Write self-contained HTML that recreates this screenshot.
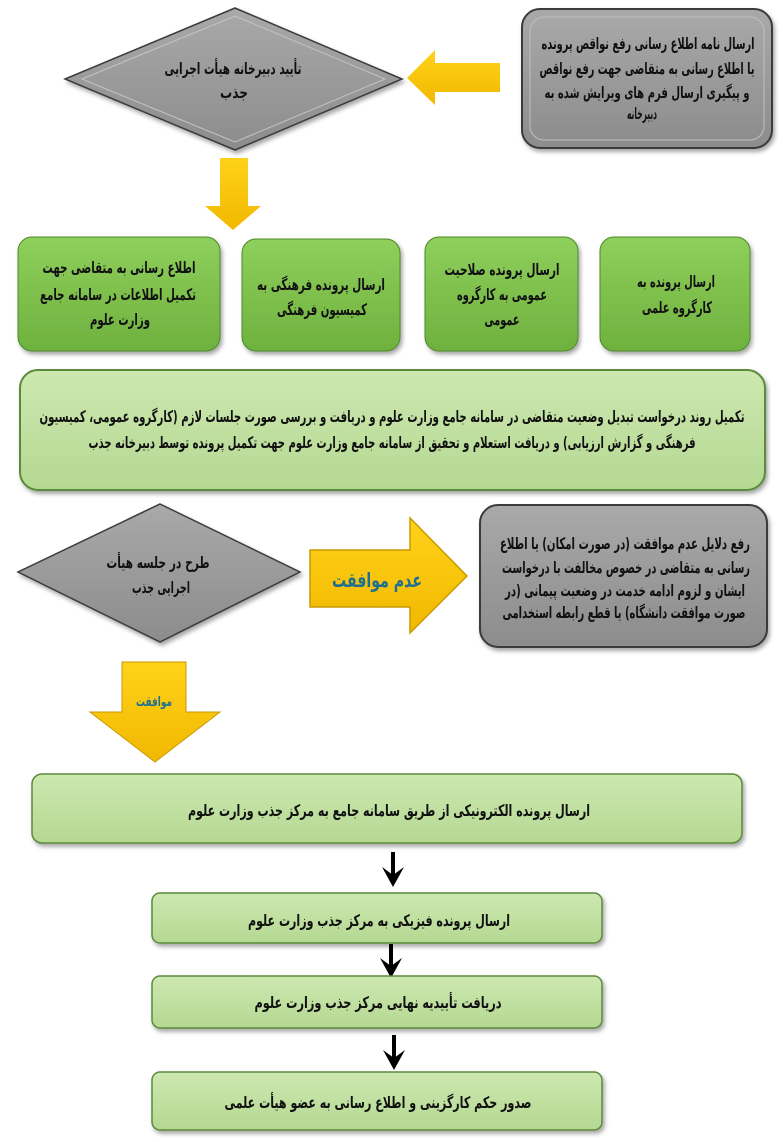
<!DOCTYPE html>
<html><head><meta charset="utf-8"><style>
html,body{margin:0;padding:0;background:#fff;}
svg{display:block}
text{font-family:"DejaVu Sans","Liberation Sans",sans-serif;font-weight:bold;font-size:16px;fill:#111;text-anchor:middle}
</style></head><body>
<svg width="783" height="1142" viewBox="0 0 783 1142" xmlns="http://www.w3.org/2000/svg">
<defs>
<linearGradient id="gray" x1="0" y1="0" x2="0" y2="1"><stop offset="0" stop-color="#a9a9a9"/><stop offset="1" stop-color="#8c8c8c"/></linearGradient>
<linearGradient id="green" x1="0" y1="0" x2="0" y2="1"><stop offset="0" stop-color="#8fcf5c"/><stop offset="1" stop-color="#6fb13e"/></linearGradient>
<linearGradient id="lg" x1="0" y1="0" x2="0" y2="1"><stop offset="0" stop-color="#cde8b0"/><stop offset="1" stop-color="#b4d892"/></linearGradient>
<linearGradient id="yel" x1="0" y1="0" x2="0" y2="1"><stop offset="0" stop-color="#ffd21a"/><stop offset="1" stop-color="#f2b800"/></linearGradient>
<filter id="sh" x="-10%" y="-10%" width="125%" height="130%"><feDropShadow dx="2" dy="3" stdDeviation="2" flood-color="#000" flood-opacity="0.35"/></filter>
</defs>

<rect x="522" y="9" width="250" height="139" rx="18" fill="url(#gray)" stroke="#3a3a3a" stroke-width="2" filter="url(#sh)"/>
<rect x="530" y="17" width="234" height="123" rx="14" fill="none" stroke="#c0c0c0" stroke-width="1"/>
<text x="648" y="49" textLength="213" lengthAdjust="spacingAndGlyphs">ارسال نامه اطلاع رسانی رفع نواقص پرونده</text>
<text x="647" y="74" textLength="215" lengthAdjust="spacingAndGlyphs">یا اطلاع رسانی به متقاضی جهت رفع نواقص</text>
<text x="647" y="98" textLength="205" lengthAdjust="spacingAndGlyphs">و پیگیری ارسال فرم های ویرایش شده به</text>
<text x="642" y="119" textLength="30" lengthAdjust="spacingAndGlyphs">دبیرخانه</text>

<polygon points="235,8 402,79 235,150 65,79" fill="url(#gray)" stroke="#3a3a3a" stroke-width="1.5" filter="url(#sh)"/>
<polygon points="235,16 385,79 235,142 82,79" fill="none" stroke="#c4c4c4" stroke-width="1"/>
<text x="233" y="74" textLength="137" lengthAdjust="spacingAndGlyphs">تأیید دبیرخانه هیأت اجرایی</text>
<text x="234" y="98" textLength="28" lengthAdjust="spacingAndGlyphs">جذب</text>

<polygon points="500,63 435,63 435,50 407,78 435,105 435,92 500,92" fill="url(#yel)"/>
<polygon points="220,158 248,158 248,206 261,206 233,230 205,206 220,206" fill="url(#yel)"/>

<rect x="18" y="237" width="202" height="114" rx="14" fill="url(#green)" stroke="#4f8a2a" filter="url(#sh)"/>
<text x="119" y="273" textLength="153" lengthAdjust="spacingAndGlyphs">اطلاع رسانی به متقاضی جهت</text>
<text x="118" y="300" textLength="156" lengthAdjust="spacingAndGlyphs">تکمیل اطلاعات در سامانه جامع</text>
<text x="120" y="325" textLength="60" lengthAdjust="spacingAndGlyphs">وزارت علوم</text>
<rect x="242" y="239" width="158" height="112" rx="14" fill="url(#green)" stroke="#4f8a2a" filter="url(#sh)"/>
<text x="321" y="290" textLength="128" lengthAdjust="spacingAndGlyphs">ارسال پرونده فرهنگی به</text>
<text x="322" y="315" textLength="90" lengthAdjust="spacingAndGlyphs">کمیسیون فرهنگی</text>
<rect x="425" y="237" width="153" height="114" rx="14" fill="url(#green)" stroke="#4f8a2a" filter="url(#sh)"/>
<text x="502" y="275" textLength="115" lengthAdjust="spacingAndGlyphs">ارسال پرونده صلاحیت</text>
<text x="502" y="300" textLength="90" lengthAdjust="spacingAndGlyphs">عمومی به کارگروه</text>
<text x="502" y="325" textLength="35" lengthAdjust="spacingAndGlyphs">عمومی</text>
<rect x="600" y="237" width="150" height="114" rx="14" fill="url(#green)" stroke="#4f8a2a" filter="url(#sh)"/>
<text x="676" y="287" textLength="78" lengthAdjust="spacingAndGlyphs">ارسال پرونده به</text>
<text x="677" y="313" textLength="70" lengthAdjust="spacingAndGlyphs">کارگروه علمی</text>

<rect x="20" y="370" width="745" height="120" rx="18" fill="url(#lg)" stroke="#5a8a3a" stroke-width="2" filter="url(#sh)"/>
<text x="392" y="422" textLength="705" lengthAdjust="spacingAndGlyphs">تکمیل روند درخواست تبدیل وضعیت متقاضی در سامانه جامع وزارت علوم و دریافت و بررسی صورت جلسات لازم (کارگروه عمومی، کمیسیون</text>
<text x="392" y="448" textLength="607" lengthAdjust="spacingAndGlyphs">فرهنگی و گزارش ارزیابی) و دریافت استعلام و تحقیق از سامانه جامع وزارت علوم جهت تکمیل پرونده توسط دبیرخانه جذب</text>

<polygon points="160,504 300,572 160,642 18,572" fill="url(#gray)" stroke="#3a3a3a" stroke-width="1.5" filter="url(#sh)"/>
<text x="158" y="568" textLength="103" lengthAdjust="spacingAndGlyphs">طرح در جلسه هیأت</text>
<text x="161" y="593" textLength="58" lengthAdjust="spacingAndGlyphs">اجرایی جذب</text>

<polygon points="310,550 410,550 410,518 467,576 410,633 410,607 310,607" fill="url(#yel)" stroke="#c89a00" stroke-width="1.5"/>
<text x="377" y="587" textLength="90" lengthAdjust="spacingAndGlyphs" style="font-size:20px;fill:#1f6f8f">عدم موافقت</text>

<rect x="480" y="505" width="287" height="142" rx="18" fill="url(#gray)" stroke="#3a3a3a" stroke-width="2" filter="url(#sh)"/>
<text x="625" y="549" textLength="250" lengthAdjust="spacingAndGlyphs">رفع دلایل عدم موافقت (در صورت امکان) یا اطلاع</text>
<text x="626" y="573" textLength="248" lengthAdjust="spacingAndGlyphs">رسانی به متقاضی در خصوص مخالفت با درخواست</text>
<text x="625" y="596" textLength="240" lengthAdjust="spacingAndGlyphs">ایشان و لزوم ادامه خدمت در وضعیت پیمانی (در</text>
<text x="624" y="618" textLength="243" lengthAdjust="spacingAndGlyphs">صورت موافقت دانشگاه) یا قطع رابطه استخدامی</text>

<polygon points="122,662 186,662 186,712 220,712 155,762 90,712 122,712" fill="url(#yel)" stroke="#c89a00" stroke-width="1"/>
<text x="154" y="706" textLength="36" lengthAdjust="spacingAndGlyphs" style="font-size:13px;fill:#1f6f8f">موافقت</text>

<rect x="32" y="774" width="710" height="69" rx="10" fill="url(#lg)" stroke="#5a8a3a" stroke-width="1.5" filter="url(#sh)"/>
<text x="389" y="816" textLength="402" lengthAdjust="spacingAndGlyphs">ارسال پرونده الکترونیکی از طریق سامانه جامع به مرکز جذب وزارت علوم</text>

<line x1="393" y1="852" x2="393" y2="878" stroke="#000" stroke-width="4"/>
<polygon points="382,867 393,887 404,867 393,875" fill="#000"/>

<rect x="152" y="893" width="450" height="50" rx="8" fill="url(#lg)" stroke="#5a8a3a" stroke-width="1.5" filter="url(#sh)"/>
<text x="379" y="926" textLength="262" lengthAdjust="spacingAndGlyphs">ارسال پرونده فیزیکی به مرکز جذب وزارت علوم</text>

<line x1="391" y1="944" x2="391" y2="968" stroke="#000" stroke-width="4"/>
<polygon points="380,958 391,978 402,958 391,966" fill="#000"/>

<rect x="152" y="976" width="450" height="52" rx="8" fill="url(#lg)" stroke="#5a8a3a" stroke-width="1.5" filter="url(#sh)"/>
<text x="378" y="1008" textLength="247" lengthAdjust="spacingAndGlyphs">دریافت تأییدیه نهایی مرکز جذب وزارت علوم</text>

<line x1="394" y1="1035" x2="394" y2="1060" stroke="#000" stroke-width="4"/>
<polygon points="383,1050 394,1070 405,1050 394,1058" fill="#000"/>

<rect x="152" y="1072" width="450" height="58" rx="8" fill="url(#lg)" stroke="#5a8a3a" stroke-width="1.5" filter="url(#sh)"/>
<text x="378" y="1108" textLength="307" lengthAdjust="spacingAndGlyphs">صدور حکم کارگزینی و اطلاع رسانی به عضو هیأت علمی</text>
</svg>
</body></html>
